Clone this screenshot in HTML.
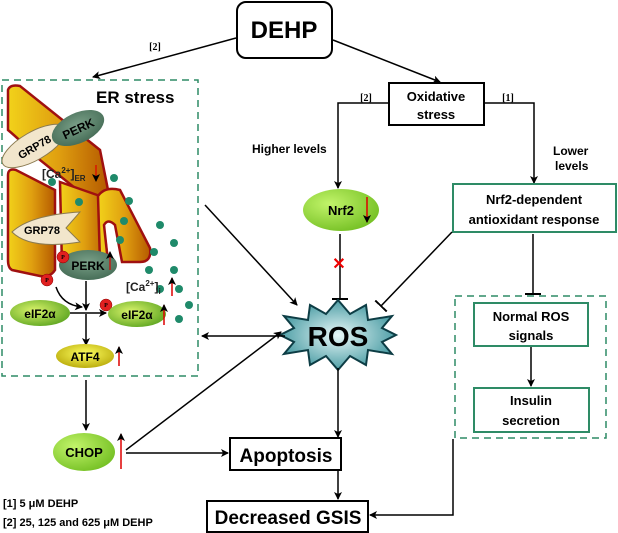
<!DOCTYPE html>
<html><head><meta charset="utf-8"><style>
html,body{margin:0;padding:0;background:#fff;}
svg{display:block;font-family:"Liberation Sans",Arial,sans-serif;font-weight:bold;}
</style></head><body>
<svg width="618" height="533" viewBox="0 0 618 533" xmlns="http://www.w3.org/2000/svg">
<defs>
<marker id="a" markerWidth="8" markerHeight="8" refX="7" refY="4" orient="auto" markerUnits="userSpaceOnUse"><path d="M0,0 L8,4 L0,8 L2,4 z" fill="#000"/></marker>
<marker id="t" markerWidth="2" markerHeight="16" refX="1" refY="8" orient="auto" markerUnits="userSpaceOnUse"><rect x="0" y="0" width="2" height="16" fill="#000"/></marker>
<linearGradient id="g" x1="0" y1="0" x2="1" y2="0"><stop offset="0" stop-color="#f2d21a"/><stop offset="0.5" stop-color="#e0a010"/><stop offset="1" stop-color="#b55a00"/></linearGradient>
<radialGradient id="gr" cx="0.4" cy="0.4" r="0.7"><stop offset="0" stop-color="#d9f36a"/><stop offset="1" stop-color="#58a21e"/></radialGradient>
<radialGradient id="gn" cx="0.35" cy="0.35" r="0.8"><stop offset="0" stop-color="#c2f46a"/><stop offset="1" stop-color="#6cba1c"/></radialGradient>
<radialGradient id="gy" cx="0.5" cy="0.4" r="0.7"><stop offset="0" stop-color="#ffff60"/><stop offset="1" stop-color="#b0a000"/></radialGradient>
<radialGradient id="gp" cx="0.5" cy="0.4" r="0.7"><stop offset="0" stop-color="#7aa088"/><stop offset="1" stop-color="#3f6650"/></radialGradient>
<radialGradient id="gb" cx="0.5" cy="0.5" r="0.6"><stop offset="0" stop-color="#e8f8f8"/><stop offset="1" stop-color="#2f8c95"/></radialGradient>
</defs>

<!-- DEHP -->
<rect x="237" y="2" width="95" height="56" rx="9" fill="#fff" stroke="#000" stroke-width="2"/>
<text x="284" y="38" font-size="24" text-anchor="middle">DEHP</text>
<line x1="236" y1="38" x2="93" y2="77" stroke="#000" stroke-width="1.5" marker-end="url(#a)"/>
<text x="155" y="50" font-size="10" font-family="Liberation Serif" text-anchor="middle">[2]</text>
<line x1="333" y1="40" x2="440" y2="82" stroke="#000" stroke-width="1.5" marker-end="url(#a)"/>

<!-- Oxidative stress -->
<rect x="389" y="83" width="95" height="42" fill="#fff" stroke="#000" stroke-width="2"/>
<text x="436" y="101" font-size="13" text-anchor="middle">Oxidative</text>
<text x="436" y="119" font-size="13" text-anchor="middle">stress</text>
<polyline points="389,103 338,103 338,188" fill="none" stroke="#000" stroke-width="1.5" marker-end="url(#a)"/>
<text x="366" y="101" font-size="10" font-family="Liberation Serif" text-anchor="middle">[2]</text>
<polyline points="484,103 534,103 534,183" fill="none" stroke="#000" stroke-width="1.5" marker-end="url(#a)"/>
<text x="508" y="101" font-size="10" font-family="Liberation Serif" text-anchor="middle">[1]</text>
<text x="252" y="153" font-size="12">Higher levels</text>
<text x="553" y="155" font-size="12">Lower</text>
<text x="555" y="170" font-size="12">levels</text>

<!-- Nrf2 -->
<ellipse cx="341" cy="210" rx="38" ry="21" fill="url(#gn)"/>
<text x="341" y="215" font-size="13" text-anchor="middle">Nrf2</text>
<line x1="367" y1="197" x2="367" y2="222" stroke="#d00" stroke-width="1.5" marker-end="url(#a)"/>
<line x1="340" y1="234" x2="340" y2="299" stroke="#000" stroke-width="1.5" marker-end="url(#t)"/>
<text x="339" y="269" font-size="16" fill="#e00" text-anchor="middle">✕</text>

<!-- Nrf2-dependent -->
<rect x="453" y="184" width="163" height="48" fill="#fff" stroke="#2e8b66" stroke-width="2"/>
<text x="534" y="204" font-size="13" text-anchor="middle">Nrf2-dependent</text>
<text x="534" y="224" font-size="13" text-anchor="middle">antioxidant response</text>
<line x1="452" y1="232" x2="381" y2="306" stroke="#000" stroke-width="1.5" marker-end="url(#t)"/>
<line x1="533" y1="234" x2="533" y2="294" stroke="#000" stroke-width="1.5" marker-end="url(#t)"/>

<!-- right dashed box -->
<rect x="455" y="296" width="151" height="142" fill="none" stroke="#2e8b66" stroke-width="1.5" stroke-dasharray="7,5"/>
<rect x="474" y="303" width="114" height="43" fill="#fff" stroke="#2e8b66" stroke-width="2"/>
<text x="531" y="321" font-size="13" text-anchor="middle">Normal ROS</text>
<text x="531" y="340" font-size="13" text-anchor="middle">signals</text>
<line x1="531" y1="347" x2="531" y2="386" stroke="#000" stroke-width="1.5" marker-end="url(#a)"/>
<rect x="474" y="388" width="115" height="44" fill="#fff" stroke="#2e8b66" stroke-width="2"/>
<text x="531" y="405" font-size="13" text-anchor="middle">Insulin</text>
<text x="531" y="425" font-size="13" text-anchor="middle">secretion</text>
<polyline points="453,439 453,515 370,515" fill="none" stroke="#000" stroke-width="1.5" marker-end="url(#a)"/>

<!-- ROS -->
<polygon fill="url(#gb)" stroke="#0d3d45" stroke-width="2" points="
338,300 350,314 366,305 368,320 392,316 382,328 396,335 382,342 392,354 368,350 366,365 350,356 338,370 326,356 310,365 308,350 284,354 294,342 280,335 294,328 284,316 308,320 310,305 326,314"/>
<text x="338" y="346" font-size="28" text-anchor="middle">ROS</text>
<line x1="285" y1="336" x2="202" y2="336" stroke="#000" stroke-width="1.5" marker-end="url(#a)"/>
<line x1="205" y1="205" x2="297" y2="305" stroke="#000" stroke-width="1.5" marker-end="url(#a)"/>
<line x1="338" y1="368" x2="338" y2="437" stroke="#000" stroke-width="1.5" marker-end="url(#a)"/>

<!-- Apoptosis / GSIS -->
<rect x="230" y="438" width="111" height="32" fill="#fff" stroke="#000" stroke-width="2"/>
<text x="286" y="462" font-size="19" text-anchor="middle">Apoptosis</text>
<line x1="338" y1="470" x2="338" y2="499" stroke="#000" stroke-width="1.5" marker-end="url(#a)"/>
<rect x="207" y="501" width="161" height="31" fill="#fff" stroke="#000" stroke-width="2"/>
<text x="288" y="524" font-size="19" text-anchor="middle">Decreased GSIS</text>

<!-- CHOP -->
<ellipse cx="84" cy="452" rx="31" ry="19" fill="url(#gn)"/>
<text x="84" y="457" font-size="13" text-anchor="middle">CHOP</text>
<line x1="121" y1="469" x2="121" y2="434" stroke="#d00" stroke-width="1.5" marker-end="url(#a)"/>
<line x1="126" y1="453" x2="228" y2="453" stroke="#000" stroke-width="1.5" marker-end="url(#a)"/>
<line x1="126" y1="450" x2="281" y2="332" stroke="#000" stroke-width="1.5" marker-end="url(#a)"/>
<line x1="86" y1="380" x2="86" y2="430" stroke="#000" stroke-width="1.5" marker-end="url(#a)"/>

<!-- legend -->
<text x="3" y="507" font-size="11">[1] 5 μM DEHP</text>
<text x="3" y="526" font-size="11">[2] 25, 125 and  625 μM DEHP</text>

<!-- ER stress box -->
<rect x="2" y="80" width="196" height="296" fill="none" stroke="#2e8b66" stroke-width="1.5" stroke-dasharray="7,5"/>
<text x="96" y="103" font-size="17">ER stress</text>

<!-- golgi shapes -->
<g stroke="#a01010" stroke-width="2.5" fill="url(#g)">
<path d="M8,90 Q10,84 20,86 L100,150 L108,190 L90,200 L40,160 Q20,140 8,130 z"/>
<path d="M8,175 Q8,168 16,170 L55,190 L55,270 Q50,278 40,276 L12,270 Q8,268 8,260 z"/>
<path d="M60,182 L100,196 L108,262 Q100,272 90,268 L62,266 z"/>
<path d="M98,196 Q105,186 120,190 L150,248 Q152,262 140,262 L122,262 L115,225 Q108,218 104,225 L108,262 L100,262 z"/>
</g>
<g fill="#1f8a6a">
<circle cx="52" cy="182" r="4"/><circle cx="114" cy="178" r="4"/><circle cx="129" cy="201" r="4"/>
<circle cx="79" cy="202" r="4"/><circle cx="124" cy="221" r="4"/><circle cx="120" cy="240" r="4"/>
<circle cx="154" cy="252" r="4"/><circle cx="160" cy="225" r="4"/><circle cx="174" cy="243" r="4"/>
<circle cx="149" cy="270" r="4"/><circle cx="174" cy="270" r="4"/><circle cx="160" cy="289" r="4"/>
<circle cx="179" cy="289" r="4"/><circle cx="189" cy="305" r="4"/><circle cx="179" cy="319" r="4"/>
</g>
<!-- GRP78 / PERK top -->
<ellipse cx="34" cy="146" rx="36" ry="14" fill="#f2e6cc" stroke="#8a7a50" transform="rotate(-30 34 146)"/>
<text x="34" y="151" font-size="11" text-anchor="middle" transform="rotate(-30 34 146)">GRP78</text>
<ellipse cx="78" cy="128" rx="28" ry="15" fill="url(#gp)" transform="rotate(-25 78 128)"/>
<text x="78" y="133" font-size="12" text-anchor="middle" transform="rotate(-25 78 128)">PERK</text>
<text x="42" y="178" font-size="12" fill="#222">[Ca<tspan font-size="8" dy="-5">2+</tspan><tspan dy="5">]</tspan><tspan font-size="8" dy="3">ER</tspan></text>
<line x1="96" y1="165" x2="96" y2="181" stroke="#d00" stroke-width="1.2" marker-end="url(#a)"/>
<!-- GRP78 lower -->
<path d="M12,232 Q30,215 80,212 L66,228 L80,242 Q30,250 12,232 z" fill="#f2e6cc" stroke="#8a7a50"/>
<text x="42" y="234" font-size="11" text-anchor="middle">GRP78</text>
<!-- PERK lower -->
<ellipse cx="88" cy="265" rx="29" ry="15" fill="url(#gp)"/>
<text x="88" y="270" font-size="12" text-anchor="middle">PERK</text>
<line x1="110" y1="270" x2="110" y2="252" stroke="#d00" stroke-width="1.2" marker-end="url(#a)"/>
<g fill="#e02020" stroke="#800" stroke-width="0.5">
<circle cx="63" cy="257" r="6"/><circle cx="47" cy="280" r="6"/><circle cx="106" cy="305" r="6"/>
</g>
<g font-size="6" fill="#000" text-anchor="middle" font-family="Liberation Serif"><text x="63" y="259">P</text><text x="47" y="282">P</text><text x="106" y="307">P</text></g>
<text x="126" y="291" font-size="12" fill="#222">[Ca<tspan font-size="8" dy="-5">2+</tspan><tspan dy="5">]</tspan><tspan font-size="8" dy="3">i</tspan></text>
<line x1="172" y1="296" x2="172" y2="278" stroke="#d00" stroke-width="1.5" marker-end="url(#a)"/>
<!-- eIF2a -->
<ellipse cx="40" cy="313" rx="30" ry="13" fill="url(#gr)"/>
<text x="40" y="318" font-size="12" text-anchor="middle">eIF2α</text>
<ellipse cx="137" cy="314" rx="29" ry="13" fill="url(#gr)"/>
<text x="137" y="319" font-size="12" text-anchor="middle">eIF2α</text>
<line x1="164" y1="325" x2="164" y2="305" stroke="#d00" stroke-width="1.5" marker-end="url(#a)"/>
<line x1="86" y1="281" x2="86" y2="310" stroke="#000" stroke-width="1.5" marker-end="url(#a)"/>
<line x1="70" y1="313" x2="106" y2="313" stroke="#000" stroke-width="1.5" marker-end="url(#a)"/>
<path d="M56,287 Q62,305 82,307" fill="none" stroke="#000" stroke-width="1.5" marker-end="url(#a)"/>
<line x1="86" y1="314" x2="86" y2="345" stroke="#000" stroke-width="1.5" marker-end="url(#a)"/>
<!-- ATF4 -->
<ellipse cx="85" cy="356" rx="29" ry="12" fill="url(#gy)"/>
<text x="85" y="361" font-size="12" text-anchor="middle">ATF4</text>
<line x1="119" y1="366" x2="119" y2="347" stroke="#d00" stroke-width="1.5" marker-end="url(#a)"/>
</svg>
</body></html>
